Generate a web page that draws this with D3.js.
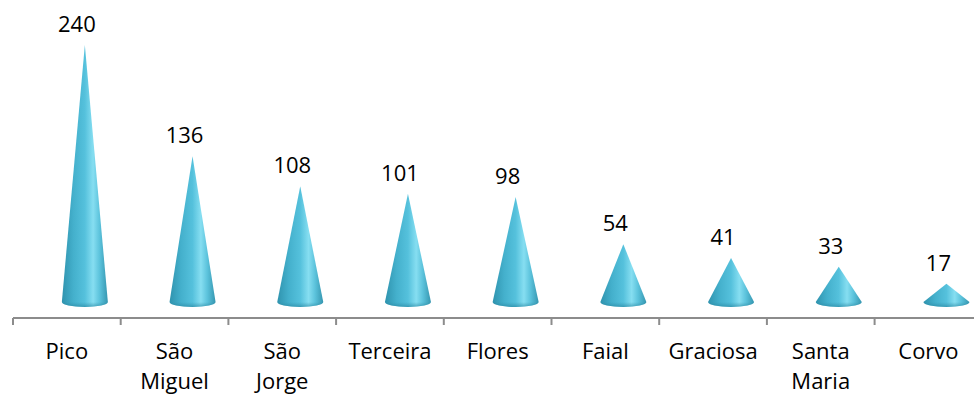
<!DOCTYPE html>
<html>
<head>
<meta charset="utf-8">
<script src="https://cdn.jsdelivr.net/npm/d3@7"></script>
<style>
  html, body { margin: 0; padding: 0; background: #fff; }
  svg { display: block; }
</style>
</head>
<body>
<svg id="chart" width="974" height="396"></svg>
<script>
// Islands and counts
const islands = ["Pico", "São Miguel", "São Jorge", "Terceira", "Flores", "Faial", "Graciosa", "Santa Maria", "Corvo"];
const counts = [240, 136, 108, 101, 98, 54, 41, 33, 17];
// Wrapped axis labels
const islandLines = [["Pico"], ["São", "Miguel"], ["São", "Jorge"], ["Terceira"], ["Flores"], ["Faial"], ["Graciosa"], ["Santa", "Maria"], ["Corvo"]];

const svg = d3.select("#chart");
const font = "'Open Sans', sans-serif";

const axisY = 318;
const baseY = 302;
const depthShift = 18;   // cones sit slightly right of their slot (3D perspective)
const coneR = 23;
const coneRy = 5;

const x = d3.scaleBand().domain(islands).range([13, 13 + 9 * 107.7]).paddingInner(0).paddingOuter(0);
const y = d3.scaleLinear().domain([0, 240]).range([baseY, 45]);

// Horizontal shading of the cone surface
const defs = svg.append("defs");
const g = defs.append("linearGradient").attr("id", "coneFill").attr("x1", "0").attr("x2", "1").attr("y1", "0").attr("y2", "0");
[[0, "#2f93ae"], [0.25, "#44b0cc"], [0.5, "#55c1dc"], [0.68, "#86def1"], [0.82, "#5cc3dc"], [1, "#3596b0"]]
  .forEach(([o, c]) => g.append("stop").attr("offset", o).attr("stop-color", c));
const gb = defs.append("linearGradient").attr("id", "baseShade").attr("x1", "0").attr("x2", "0").attr("y1", "0").attr("y2", "1");
gb.append("stop").attr("offset", 0).attr("stop-color", "#2b8aa4").attr("stop-opacity", 0);
gb.append("stop").attr("offset", 1).attr("stop-color", "#24819b").attr("stop-opacity", 0.6);

// Category axis: baseline and tick marks
const axis = svg.append("g");
axis.append("line")
  .attr("x1", 13).attr("x2", 974).attr("y1", axisY).attr("y2", axisY)
  .attr("stroke", "#8c8c8c").attr("stroke-width", 2);
const tickXs = d3.range(islands.length + 1).map(i => 13 + i * x.bandwidth());
axis.selectAll("line.tick").data(tickXs).join("line")
  .attr("class", "tick")
  .attr("x1", d => d).attr("x2", d => d)
  .attr("y1", axisY).attr("y2", axisY + 7)
  .attr("stroke", "#8c8c8c").attr("stroke-width", 2);

// Cones
const data = islands.map((name, i) => ({ name, value: counts[i], lines: islandLines[i] }));
const cones = svg.append("g").selectAll("g").data(data).join("g");

function conePath(d) {
  const cx = x(d.name) + x.bandwidth() / 2 + depthShift;
  const top = y(d.value);
  return `M${cx - coneR},${baseY} L${cx},${top} L${cx + coneR},${baseY} A${coneR},${coneRy} 0 0 1 ${cx - coneR},${baseY} Z`;
}
cones.append("path").attr("d", conePath).attr("fill", "url(#coneFill)");
cones.append("path")
  .attr("d", d => {
    const cx = x(d.name) + x.bandwidth() / 2 + depthShift;
    return `M${cx - coneR},${baseY} A${coneR},${coneRy} 0 0 0 ${cx + coneR},${baseY} Z`;
  })
  .attr("fill", "url(#baseShade)");

// Value labels above each apex
cones.append("text")
  .attr("x", d => x(d.name) + x.bandwidth() / 2 + depthShift - 8)
  .attr("y", d => y(d.value) - 13)
  .attr("text-anchor", "middle")
  .attr("font-family", font).attr("font-size", 22).attr("fill", "#000")
  .text(d => d.value);

// Island names under the axis
const names = svg.append("g").selectAll("text").data(data).join("text")
  .attr("x", d => x(d.name) + x.bandwidth() / 2)
  .attr("y", 359)
  .attr("text-anchor", "middle")
  .attr("font-family", font).attr("font-size", 22).attr("fill", "#000");
names.selectAll("tspan").data(d => d.lines.map(l => ({ l, x: x(d.name) + x.bandwidth() / 2 }))).join("tspan")
  .attr("x", t => t.x)
  .attr("dy", (t, i) => i === 0 ? 0 : 30)
  .text(t => t.l);
</script>
</body>
</html>
